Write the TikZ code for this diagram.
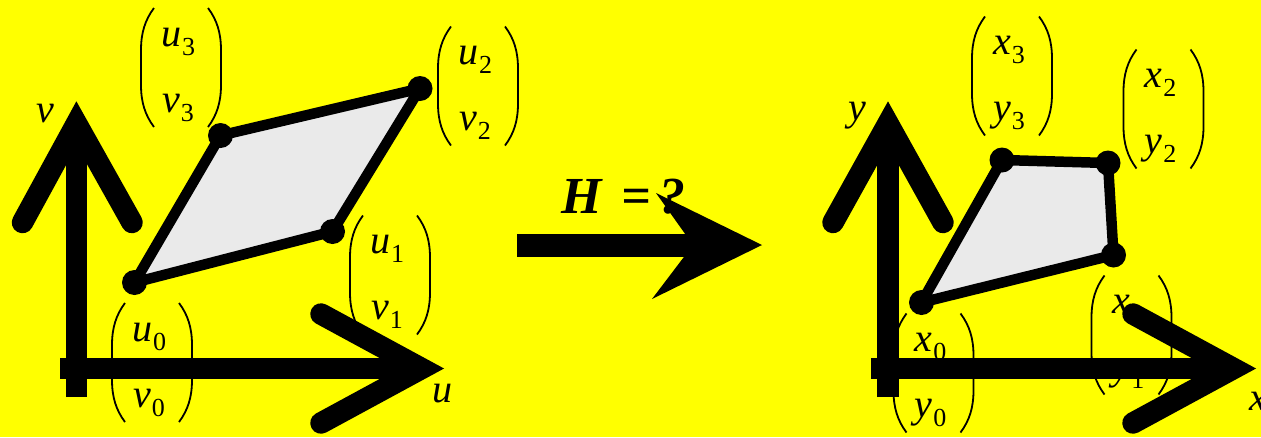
\documentclass[tikz,border=0pt]{standalone}
\usepackage{fontspec}
\setmainfont{Liberation Serif}
\definecolor{quadgray}{RGB}{234,234,234}
\definecolor{bgyellow}{RGB}{255,255,0}
\tikzset{
 every node/.style={inner sep=0pt, outer sep=0pt},
 vbox/.style={rectangle, minimum width=80pt, minimum height=119pt},
 vtxt/.style={anchor=base, font=\fontsize{40}{44}\selectfont},
 paren/.style={line width=1.8pt},
 shaft/.style={line width=21.5pt},
 chev/.style={line width=21.5pt, line cap=round, line join=miter},
 quad/.style={line width=10.5pt, fill=quadgray, line join=round},
 vdot/.style={circle, fill=black, minimum size=25pt},
 axlabel/.style={anchor=base, font=\fontsize{40}{44}\selectfont\itshape},
 bigarrow/.style={fill=black}
}
\newcommand\Sub[1]{\kern1pt\raisebox{-9pt}{\fontsize{26}{26}\selectfont #1}}
\newcommand\ColVec[5]{%
 \node[vbox] (#1) at (#2,#3) {};
 \node[vtxt] (#1-t) at ([xshift=-3pt,yshift=-38pt]#1.north) {#4};
 \node[vtxt] (#1-b) at ([xshift=-3pt,yshift=15pt]#1.south) {#5};
 \draw[paren] ([xshift=13pt]#1.north west) .. controls ([xshift=4pt,yshift=-12pt]#1.north west) and ([yshift=-25pt]#1.north west) .. ([yshift=-42pt]#1.north west) -- ([yshift=42pt]#1.south west) .. controls ([yshift=25pt]#1.south west) and ([xshift=4pt,yshift=12pt]#1.south west) .. ([xshift=13pt]#1.south west);
 \draw[paren] ([xshift=-13pt]#1.north east) .. controls ([xshift=-4pt,yshift=-12pt]#1.north east) and ([yshift=-25pt]#1.north east) .. ([yshift=-42pt]#1.north east) -- ([yshift=42pt]#1.south east) .. controls ([yshift=25pt]#1.south east) and ([xshift=-4pt,yshift=12pt]#1.south east) .. ([xshift=-13pt]#1.south east);
}
\begin{document}
\begin{tikzpicture}[x=1pt,y=-1pt]
\useasboundingbox (0,0) rectangle (1261,437);
\fill[bgyellow] (0,0) rectangle (1261,437);

% ---------- left: labels ----------
\ColVec{L3}{181}{67.5}{\textit{u}\Sub{3}}{\textit{v}\Sub{3}}
\ColVec{L2}{478}{86}{\textit{u}\Sub{2}}{\textit{v}\Sub{2}}
\ColVec{L1}{390}{275}{\textit{u}\Sub{1}}{\textit{v}\Sub{1}}
\ColVec{L0}{152}{362.5}{\textit{u}\Sub{0}}{\textit{v}\Sub{0}}
\node[axlabel] (lv) at (45,122) {v};
\node[axlabel] (lu) at (442,402) {u};

% ---------- left: axes ----------
\draw[shaft] (76.5,397) -- (76.5,125);
\draw[shaft] (60,368.5) -- (423,368.5);
\draw[chev] (22.5,222.5) -- (76.5,123.5) -- (132,222.5);
\draw[chev] (321,314) -- (421.5,368.5) -- (321,423);

% ---------- left: quadrilateral ----------
\coordinate (P0) at (134.5,282.5);
\coordinate (P1) at (332.5,231.5);
\coordinate (P2) at (420,88.5);
\coordinate (P3) at (220.5,135.5);
\draw[quad] (P0) -- (P1) -- (P2) -- (P3) -- cycle;
\foreach \p in {P0,P1,P2,P3} \node[vdot] at (\p) {};

% ---------- middle ----------
\node[anchor=base west, font=\fontsize{52}{56}\selectfont\bfseries\itshape] (H) at (561,213) {H\kern20pt=\kern8pt?};
\coordinate (MB) at (762,245);
\fill[bigarrow] (517,233.5) rectangle (695,256.5);
\fill[bigarrow] (MB) -- (656,193) -- (693,245) -- (652,299) -- cycle;

% ---------- right: labels ----------
\ColVec{R3}{1012}{76}{\textit{x}\Sub{3}}{\textit{y}\Sub{3}}
\ColVec{R2}{1163.5}{109}{\textit{x}\Sub{2}}{\textit{y}\Sub{2}}
\ColVec{R1}{1131.5}{335}{\textit{x}\Sub{1}}{\textit{y}\Sub{1}}
\ColVec{R0}{933.5}{373}{\textit{x}\Sub{0}}{\textit{y}\Sub{0}}
\node[axlabel] (ry) at (857,120) {y};
\node[axlabel] (rx) at (1258,410) {x};

% ---------- right: axes ----------
\draw[shaft] (888,397) -- (888,125);
\draw[shaft] (871,368.5) -- (1235,368.5);
\draw[chev] (833,222.5) -- (888,123.5) -- (943,222.5);
\draw[chev] (1133,314) -- (1233.5,368.5) -- (1133,423);

% ---------- right: quadrilateral ----------
\coordinate (Q0) at (921.5,302.5);
\coordinate (Q1) at (1113.5,255);
\coordinate (Q2) at (1108,163);
\coordinate (Q3) at (1002,160);
\draw[quad] (Q0) -- (Q1) -- (Q2) -- (Q3) -- cycle;
\foreach \p in {Q0,Q1,Q2,Q3} \node[vdot] at (\p) {};
\end{tikzpicture}
\end{document}
